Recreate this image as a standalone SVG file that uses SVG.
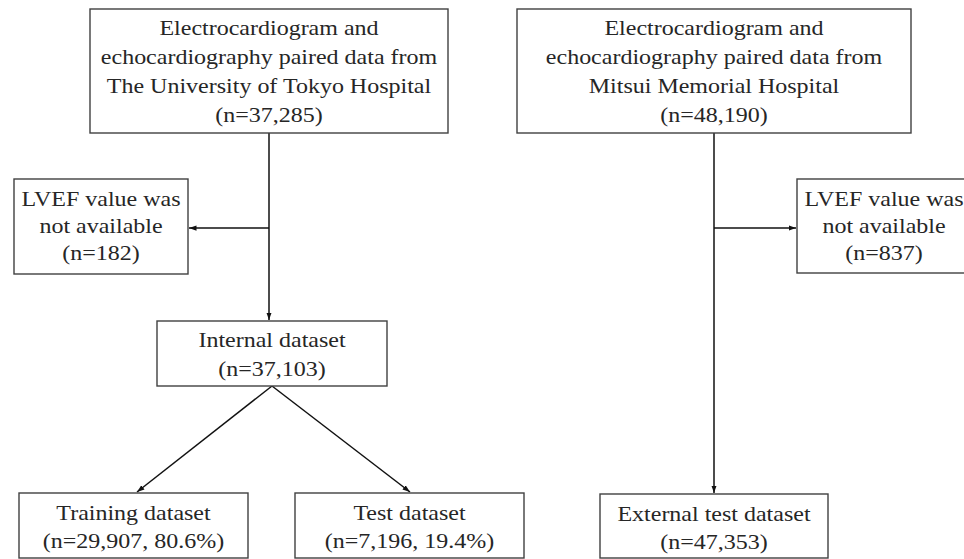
<svg xmlns="http://www.w3.org/2000/svg" width="964" height="559" viewBox="0 0 964 559">
<defs>
<style>
.box{fill:#fff;stroke:#404040;stroke-width:1.4}
.t{font-family:"Liberation Serif","Times New Roman",serif;font-size:20px;fill:#262626;text-anchor:middle}
.c{stroke:#111;stroke-width:1.5;fill:none}
</style>
<marker id="ah" viewBox="0 0 10 10" refX="10" refY="5" markerWidth="5" markerHeight="5" orient="auto" markerUnits="strokeWidth">
<path d="M0,1.5 L10,5 L0,8.5 Z" fill="#111"/>
</marker>
</defs>
<rect width="964" height="559" fill="#fff"/>
<g id="connectors">
<line class="c" x1="269" y1="133" x2="269" y2="320" marker-end="url(#ah)"/>
<line class="c" x1="269" y1="228" x2="189" y2="228" marker-end="url(#ah)"/>
<line class="c" x1="272" y1="386" x2="137" y2="492" marker-end="url(#ah)"/>
<line class="c" x1="272" y1="386" x2="410" y2="492" marker-end="url(#ah)"/>
<line class="c" x1="714" y1="133" x2="714" y2="493" marker-end="url(#ah)"/>
<line class="c" x1="714" y1="228" x2="796" y2="228" marker-end="url(#ah)"/>
</g>
<g id="tokyo">
<rect class="box" x="90" y="9" width="358" height="124"/>
<g transform="translate(269,0) scale(1.2,1)">
<text class="t" x="0" y="35">Electrocardiogram and</text>
<text class="t" x="0" y="64">echocardiography paired data from</text>
<text class="t" x="0" y="93">The University of Tokyo Hospital</text>
<text class="t" x="0" y="122">(n=37,285)</text>
</g>
</g>
<g id="mitsui">
<rect class="box" x="517" y="9" width="394" height="124"/>
<g transform="translate(714,0) scale(1.2,1)">
<text class="t" x="0" y="35">Electrocardiogram and</text>
<text class="t" x="0" y="64">echocardiography paired data from</text>
<text class="t" x="0" y="93">Mitsui Memorial Hospital</text>
<text class="t" x="0" y="122">(n=48,190)</text>
</g>
</g>
<g id="excl-left">
<rect class="box" x="14" y="179" width="174" height="95"/>
<g transform="translate(101,0) scale(1.2,1)">
<text class="t" x="0" y="206">LVEF value was</text>
<text class="t" x="0" y="233">not available</text>
<text class="t" x="0" y="260">(n=182)</text>
</g>
</g>
<g id="excl-right">
<rect class="box" x="797" y="179" width="174" height="94"/>
<g transform="translate(884,0) scale(1.2,1)">
<text class="t" x="0" y="206">LVEF value was</text>
<text class="t" x="0" y="233">not available</text>
<text class="t" x="0" y="260">(n=837)</text>
</g>
</g>
<g id="internal">
<rect class="box" x="157" y="321" width="230" height="65"/>
<g transform="translate(272,0) scale(1.2,1)">
<text class="t" x="0" y="347">Internal dataset</text>
<text class="t" x="0" y="376">(n=37,103)</text>
</g>
</g>
<g id="training">
<rect class="box" x="19" y="493" width="229" height="65"/>
<g transform="translate(133.5,0) scale(1.2,1)">
<text class="t" x="0" y="520">Training dataset</text>
<text class="t" x="0" y="548">(n=29,907, 80.6%)</text>
</g>
</g>
<g id="test">
<rect class="box" x="295" y="493" width="229" height="65"/>
<g transform="translate(409.5,0) scale(1.2,1)">
<text class="t" x="0" y="520">Test dataset</text>
<text class="t" x="0" y="548">(n=7,196, 19.4%)</text>
</g>
</g>
<g id="external">
<rect class="box" x="600" y="494" width="228" height="64"/>
<g transform="translate(714,0) scale(1.2,1)">
<text class="t" x="0" y="521">External test dataset</text>
<text class="t" x="0" y="549">(n=47,353)</text>
</g>
</g>
</svg>
